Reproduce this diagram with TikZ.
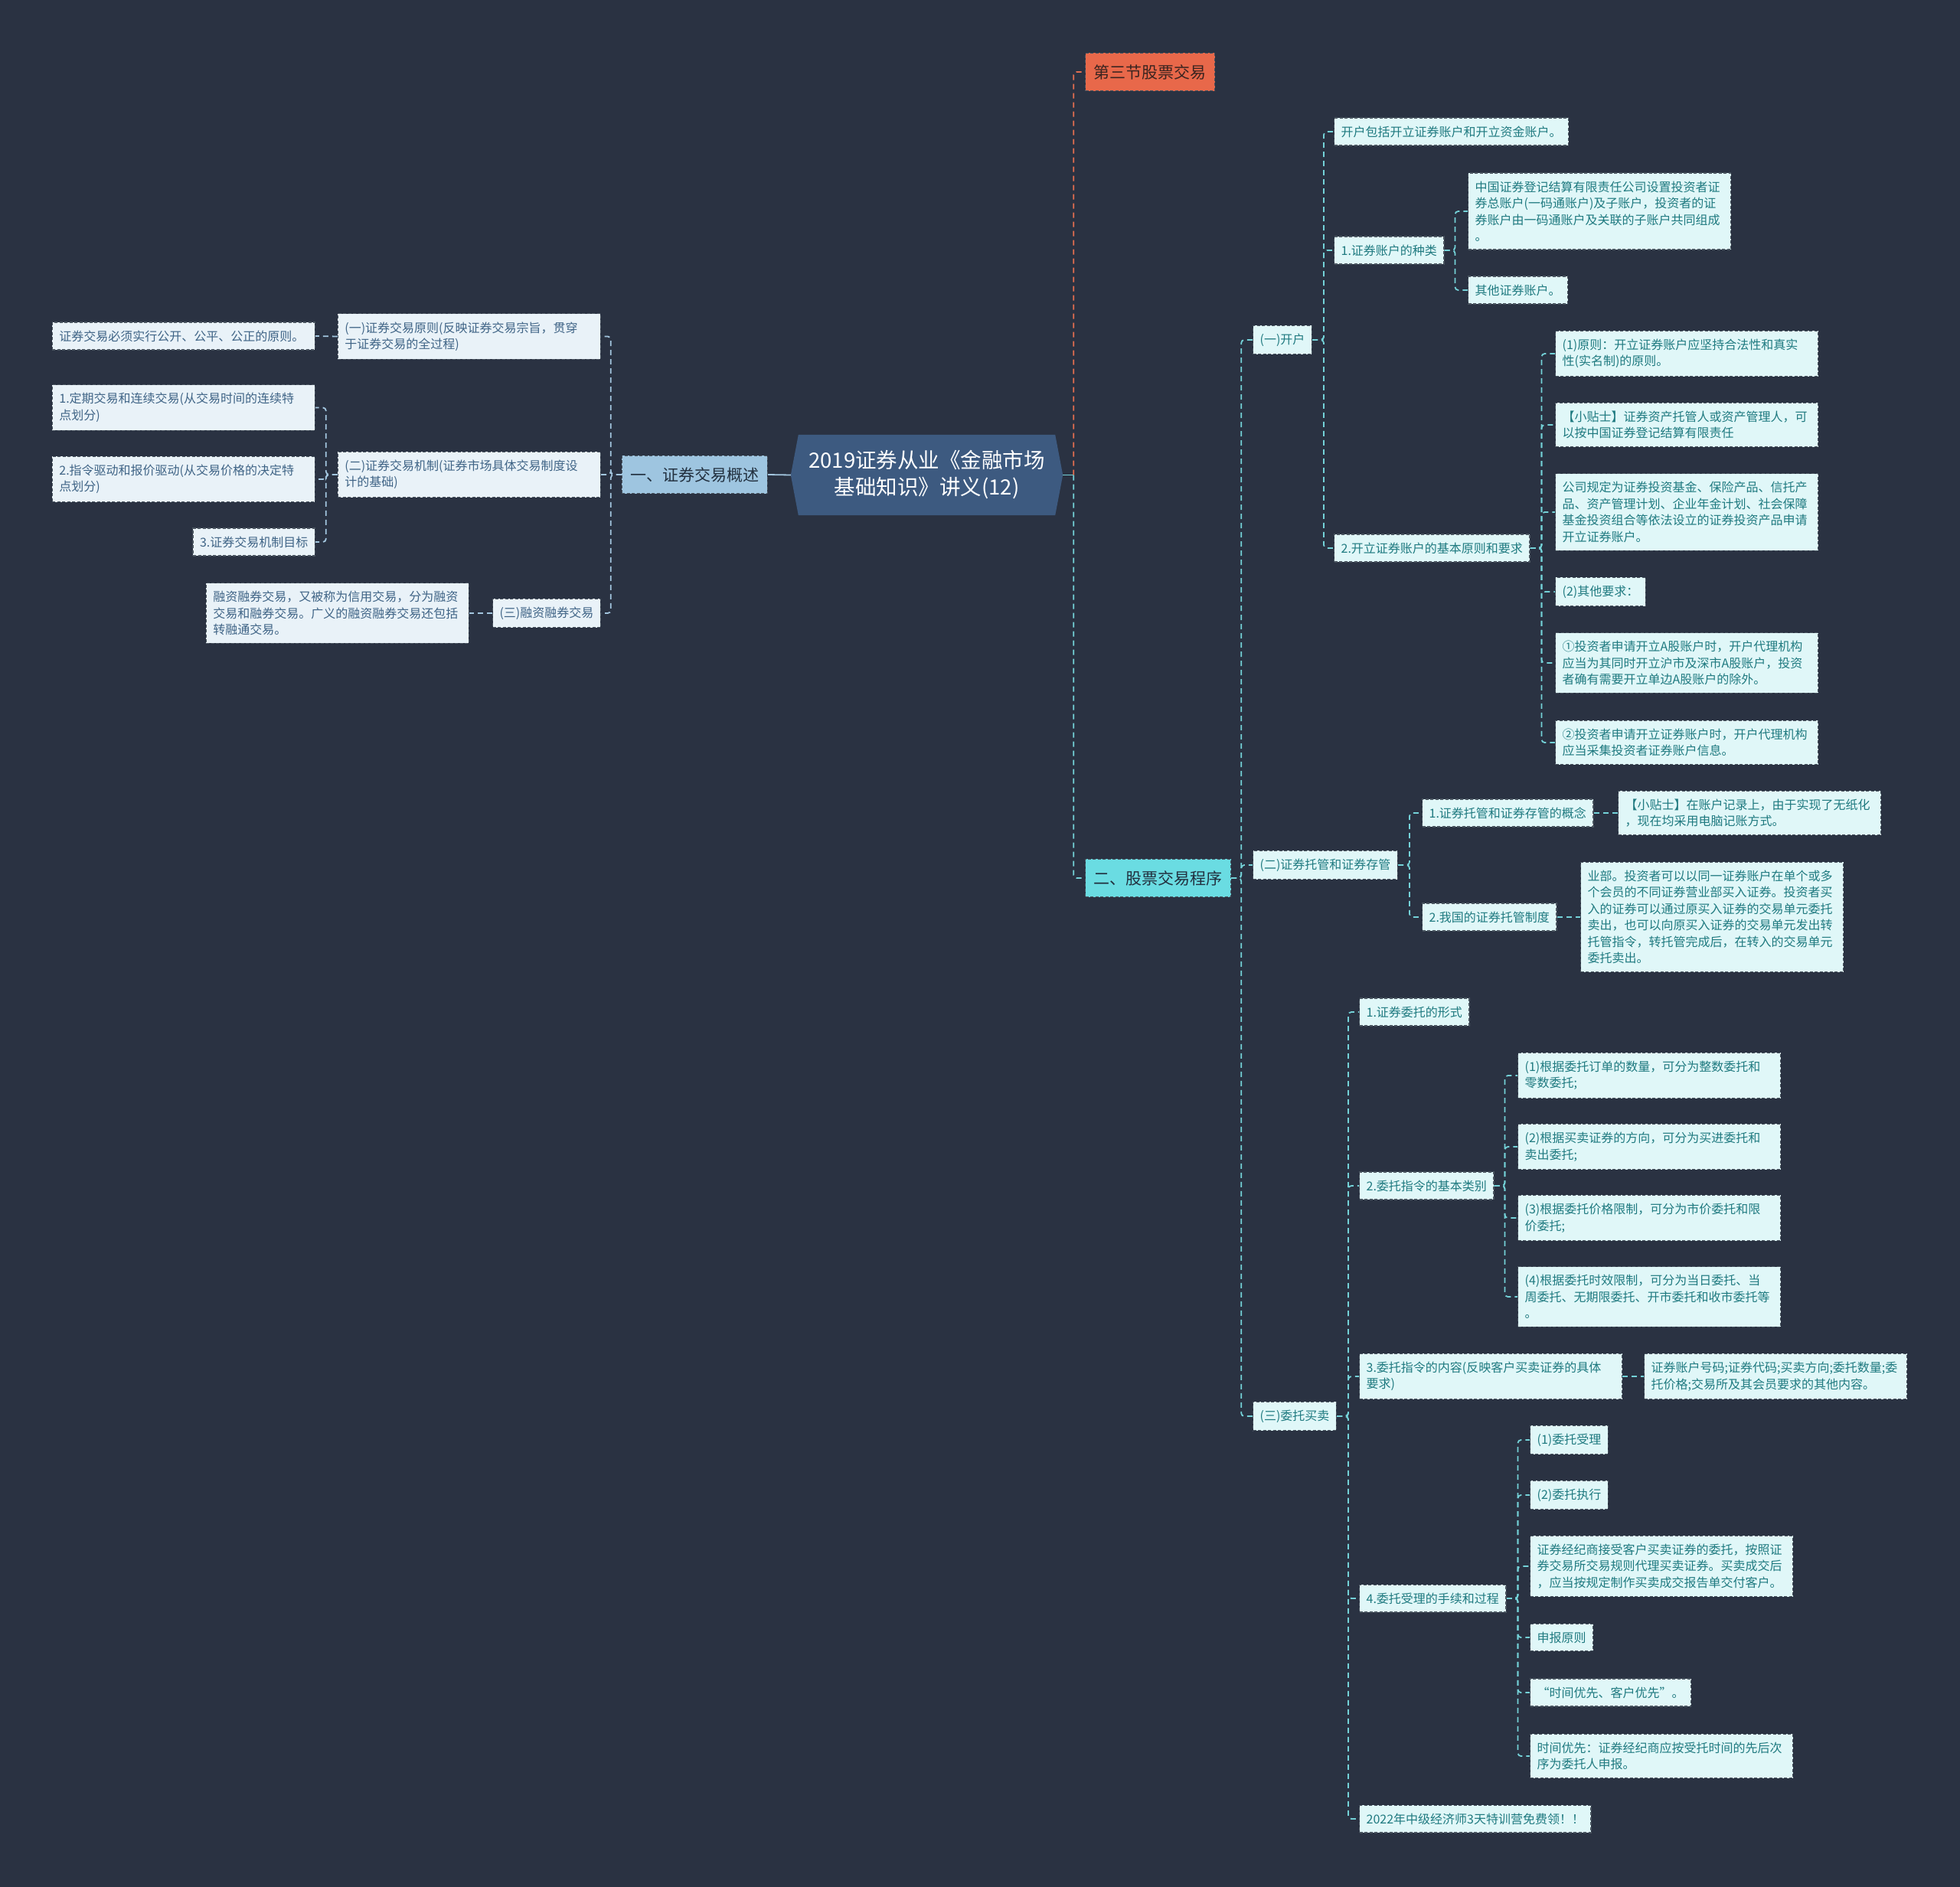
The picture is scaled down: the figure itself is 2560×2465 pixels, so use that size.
\documentclass[tikz,border=0pt]{standalone}
\usepackage{fontspec}
\setmainfont{Noto Sans CJK SC}
\usetikzlibrary{backgrounds}
\definecolor{bg}{HTML}{2A3242}
\definecolor{rootc}{HTML}{3D5A80}
\definecolor{orangec}{HTML}{E8684A}
\definecolor{lbluec}{HTML}{9EC5E0}
\definecolor{cyanc}{HTML}{6ADCE2}
\definecolor{rfill}{HTML}{E0F7F8}
\definecolor{rtext}{HTML}{1F7A80}
\definecolor{lfill}{HTML}{E9F2F8}
\definecolor{ltext}{HTML}{3F6486}
\definecolor{bord}{HTML}{4A5560}
\definecolor{rline}{HTML}{74D2D8}
\definecolor{lline}{HTML}{A3C6DF}
\definecolor{oline}{HTML}{E36E50}
\definecolor{darktext}{HTML}{22303F}
\definecolor{orangetext}{HTML}{3A2420}
\tikzset{
  box/.style={draw=bord, line width=1.2pt, dash pattern=on 4pt off 2.5pt,
    inner xsep=9pt, inner ysep=10.5pt, font=\fontsize{16}{21.5}\selectfont, align=left},
  rbox/.style={box, fill=rfill, text=rtext, anchor=west},
  lbox/.style={box, fill=lfill, text=ltext, anchor=east},
  wide/.style={text width=325pt},
  mainbox/.style={draw=bord, line width=1.2pt, dash pattern=on 4pt off 2.5pt,
    inner xsep=11pt, inner ysep=15pt, font=\fontsize{21}{26}\selectfont},
  conbase/.style={line width=1.8pt, dash pattern=on 7pt off 5pt, rounded corners=4pt},
  rcon/.style={conbase, draw=rline},
  lcon/.style={conbase, draw=lline},
  ocon/.style={conbase, draw=oline},
}
\begin{document}
\begin{tikzpicture}[x=1pt,y=-1pt]
\useasboundingbox (0,0) rectangle (2560,2465);
\begin{scope}[on background layer]
\fill[bg] (0,0) rectangle (2560,2465);
\end{scope}

% root
\node[inner sep=0pt, minimum width=355pt, minimum height=105pt, text=white, align=center,
  font=\fontsize{27.5}{35}\selectfont] (root) at (1210.5,620.5) {2019证券从业《金融市场\\基础知识》讲义(12)};
\begin{scope}[on background layer]
\fill[rootc] (root.west) -- ([xshift=10pt]root.north west) -- ([xshift=-10pt]root.north east)
  -- (root.east) -- ([xshift=-10pt]root.south east) -- ([xshift=10pt]root.south west) -- cycle;
\end{scope}

% main branches
\node[mainbox, fill=orangec, text=orangetext, anchor=west] (top) at (1417,94) {第三节股票交易};
\node[mainbox, fill=cyanc, text=darktext, anchor=west] (er) at (1417,1147) {二、股票交易程序};
\node[mainbox, fill=lbluec, text=darktext, anchor=east] (L) at (1003,620) {一、证券交易概述};

% left side
\node[lbox, wide] (Lp1) at (785,439.5) {(一)证券交易原则(反映证券交易宗旨，贯穿\\于证券交易的全过程)};
\node[lbox, wide] (Lp2) at (785,620) {(二)证券交易机制(证券市场具体交易制度设\\计的基础)};
\node[lbox] (Lp3) at (785,801) {(三)融资融券交易};
\node[lbox, wide] (La) at (412,439) {证券交易必须实行公开、公平、公正的原则。};
\node[lbox, wide] (Lb1) at (412,532.5) {1.定期交易和连续交易(从交易时间的连续特\\点划分)};
\node[lbox, wide] (Lb2) at (412,626) {2.指令驱动和报价驱动(从交易价格的决定特\\点划分)};
\node[lbox] (Lb3) at (412,708) {3.证券交易机制目标};
\node[lbox, wide] (Lc) at (613,801) {融资融券交易，又被称为信用交易，分为融资\\交易和融券交易。广义的融资融券交易还包括\\转融通交易。};

% right level 2
\node[rbox] (k1) at (1636,444) {(一)开户};
\node[rbox] (k2) at (1636,1130) {(二)证券托管和证券存管};
\node[rbox] (k3) at (1636,1850) {(三)委托买卖};

% under k1
\node[rbox] (k1a) at (1742,172) {开户包括开立证券账户和开立资金账户。};
\node[rbox] (k1b) at (1742,327) {1.证券账户的种类};
\node[rbox] (k1c) at (1742,716) {2.开立证券账户的基本原则和要求};
\node[rbox, wide] (k1b1) at (1917,276) {中国证券登记结算有限责任公司设置投资者证\\券总账户(一码通账户)及子账户，投资者的证\\券账户由一码通账户及关联的子账户共同组成\\。};
\node[rbox] (k1b2) at (1917,379) {其他证券账户。};
\node[rbox, wide] (c1) at (2031,462) {(1)原则：开立证券账户应坚持合法性和真实\\性(实名制)的原则。};
\node[rbox, wide] (c2) at (2031,555) {【小贴士】证券资产托管人或资产管理人，可\\以按中国证券登记结算有限责任};
\node[rbox, wide] (c3) at (2031,669) {公司规定为证券投资基金、保险产品、信托产\\品、资产管理计划、企业年金计划、社会保障\\基金投资组合等依法设立的证券投资产品申请\\开立证券账户。};
\node[rbox] (c4) at (2031,773) {(2)其他要求：};
\node[rbox, wide] (c5) at (2031,866) {①投资者申请开立A股账户时，开户代理机构\\应当为其同时开立沪市及深市A股账户，投资\\者确有需要开立单边A股账户的除外。};
\node[rbox, wide] (c6) at (2031,970) {②投资者申请开立证券账户时，开户代理机构\\应当采集投资者证券账户信息。};

% under k2
\node[rbox] (k2a) at (1857,1062) {1.证券托管和证券存管的概念};
\node[rbox] (k2b) at (1857,1198) {2.我国的证券托管制度};
\node[rbox, wide] (k2a1) at (2113,1062) {【小贴士】在账户记录上，由于实现了无纸化\\，现在均采用电脑记账方式。};
\node[rbox, wide] (k2b1) at (2064,1198) {业部。投资者可以以同一证券账户在单个或多\\个会员的不同证券营业部买入证券。投资者买\\入的证券可以通过原买入证券的交易单元委托\\卖出，也可以向原买入证券的交易单元发出转\\托管指令，转托管完成后，在转入的交易单元\\委托卖出。};

% under k3
\node[rbox] (k3a) at (1775,1322) {1.证券委托的形式};
\node[rbox] (k3b) at (1775,1549) {2.委托指令的基本类别};
\node[rbox, wide] (k3c) at (1775,1798) {3.委托指令的内容(反映客户买卖证券的具体\\要求)};
\node[rbox] (k3d) at (1775,2088) {4.委托受理的手续和过程};
\node[rbox] (k3e) at (1775,2376) {2022年中级经济师3天特训营免费领！！};
\node[rbox, wide] (b1) at (1982,1405) {(1)根据委托订单的数量，可分为整数委托和\\零数委托;};
\node[rbox, wide] (b2) at (1982,1498) {(2)根据买卖证券的方向，可分为买进委托和\\卖出委托;};
\node[rbox, wide] (b3) at (1982,1591) {(3)根据委托价格限制，可分为市价委托和限\\价委托;};
\node[rbox, wide] (b4) at (1982,1694) {(4)根据委托时效限制，可分为当日委托、当\\周委托、无期限委托、开市委托和收市委托等\\。};
\node[rbox, wide] (k3c1) at (2147,1798) {证券账户号码;证券代码;买卖方向;委托数量;委\\托价格;交易所及其会员要求的其他内容。};
\node[rbox] (d1) at (1998,1881) {(1)委托受理};
\node[rbox] (d2) at (1998,1953) {(2)委托执行};
\node[rbox, wide] (d3) at (1998,2046) {证券经纪商接受客户买卖证券的委托，按照证\\券交易所交易规则代理买卖证券。买卖成交后\\，应当按规定制作买卖成交报告单交付客户。};
\node[rbox] (d4) at (1998,2139) {申报原则};
\node[rbox] (d5) at (1998,2211) {“时间优先、客户优先”。};
\node[rbox, wide] (d6) at (1998,2294) {时间优先：证券经纪商应按受托时间的先后次\\序为委托人申报。};

% connectors
\begin{scope}[on background layer]
\draw[line width=1.8pt, lline] (root.west) -- (L.east);
\draw[line width=1.8pt, rline] (root.east) -- ++(14,0) coordinate (rj);
\draw[ocon] (rj) |- (top.west);
\draw[rcon] (rj) |- (er.west);

\foreach \c in {Lp1,Lp2,Lp3} \draw[lcon] (L.west) -- ++(-14,0) |- (\c.east);
\draw[lcon] (Lp1.west) -- (La.east);
\foreach \c in {Lb1,Lb2,Lb3} \draw[lcon] (Lp2.west) -- ++(-15,0) |- (\c.east);
\draw[lcon] (Lp3.west) -- (Lc.east);

\foreach \c in {k1,k2,k3} \draw[rcon] (er.east) -- ++(13,0) |- (\c.west);
\foreach \c in {k1a,k1b,k1c} \draw[rcon] (k1.east) -- ++(15,0) |- (\c.west);
\foreach \c in {k1b1,k1b2} \draw[rcon] (k1b.east) -- ++(14,0) |- (\c.west);
\foreach \c in {c1,c2,c3,c4,c5,c6} \draw[rcon] (k1c.east) -- ++(15,0) |- (\c.west);
\foreach \c in {k2a,k2b} \draw[rcon] (k2.east) -- ++(15,0) |- (\c.west);
\draw[rcon] (k2a.east) -- (k2a1.west);
\draw[rcon] (k2b.east) -- (k2b1.west);
\foreach \c in {k3a,k3b,k3c,k3d,k3e} \draw[rcon] (k3.east) -- ++(15,0) |- (\c.west);
\foreach \c in {b1,b2,b3,b4} \draw[rcon] (k3b.east) -- ++(14,0) |- (\c.west);
\draw[rcon] (k3c.east) -- (k3c1.west);
\foreach \c in {d1,d2,d3,d4,d5,d6} \draw[rcon] (k3d.east) -- ++(15,0) |- (\c.west);
\end{scope}
\end{tikzpicture}
\end{document}
